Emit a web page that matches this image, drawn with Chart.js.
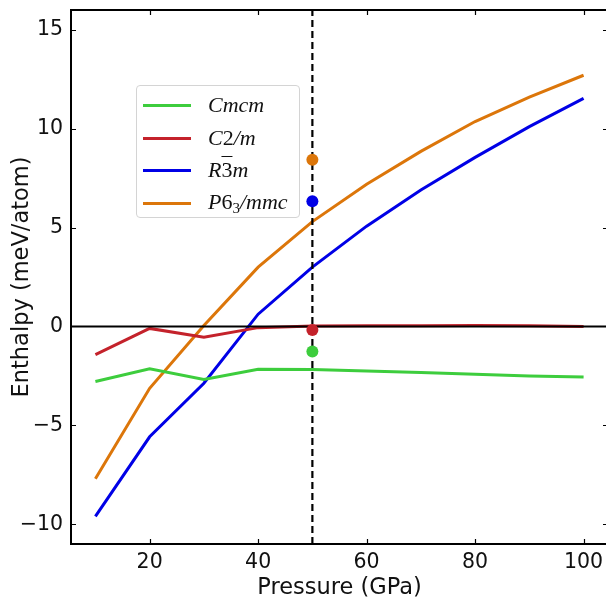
<!DOCTYPE html>
<html>
<head>
<meta charset="utf-8">
<script src="https://cdn.jsdelivr.net/npm/chart.js@4.4.0/dist/chart.umd.min.js"></script>
<style>
html, body { margin:0; padding:0; background:#fff; overflow:hidden; }
#wrap { position:relative; width:614px; height:600px; }
#legend {
  position:absolute; left:136px; top:85px; width:164px; height:133px;
  border:1px solid #d4d4d4; border-radius:4px; background:#fff; box-sizing:border-box;
  font-family:'Liberation Serif','DejaVu Serif',serif; font-size:22px; font-style:italic; color:#111;
}
.row { position:absolute; left:0; height:30px; display:flex; align-items:center; white-space:nowrap; }
.swatch { width:48px; height:3px; margin-left:6px; margin-right:17px; }
.up { font-style:normal; }
.bar { font-style:normal; text-decoration:overline; text-decoration-thickness:1px; }
sub { font-size:15px; font-style:normal; vertical-align:-4px; }
</style>
</head>
<body>
<div id="wrap">
  <canvas id="chart" width="614" height="600"></canvas>
  <div id="legend"></div>
</div>
<script>
// ── Data ───────────────────────────────────────────────────────
const PRESSURE = [10, 20, 30, 40, 50, 60, 70, 80, 90, 100];
const CMCM = [-2.78, -2.14, -2.68, -2.17, -2.18, -2.25, -2.33, -2.42, -2.50, -2.55];
const C2M  = [-1.42, -0.10, -0.55, -0.06, 0.02, 0.03, 0.04, 0.05, 0.03, 0.00];
const R3M  = [-9.60, -5.58, -2.87, 0.62, 3.00, 5.07, 6.90, 8.55, 10.10, 11.53];
const P63  = [-7.70, -3.13, 0.05, 3.00, 5.30, 7.19, 8.85, 10.36, 11.60, 12.70];

// single points at the marked pressure
const MARK_P = 50;
const MARK_VALUES = [-1.27, -0.18, 6.33, 8.43];   // Cmcm, C2/m, R-3m, P6_3/mmc

const X_TICKS = [20, 40, 60, 80, 100];
const Y_TICKS = [-10, -5, 0, 5, 10, 15];
const X_MIN = 5.5, X_MAX = 104.5;
const Y_MIN = -11, Y_MAX = 16;

// ── Styles ─────────────────────────────────────────────────────
const COL = { cmcm:'#3dcd3d', c2m:'#c4222b', r3m:'#0000e6', p63:'#dc760a' };
const SERIES = [
  { key:'cmcm', label:'Cmcm',     html:'Cmcm',                                   data:CMCM },
  { key:'c2m',  label:'C2/m',     html:'C<span class="up">2</span>/m',            data:C2M  },
  { key:'r3m',  label:'R-3m',     html:'R<span class="bar">3</span>m',            data:R3M  },
  { key:'p63',  label:'P6_3/mmc', html:'P<span class="up">6</span><sub>3</sub>/mmc', data:P63 },
];

const pts = arr => PRESSURE.map((p, i) => ({ x:p, y:arr[i] }));

const datasets = [];
// scatter marks (on top)
SERIES.forEach((s, i) => {
  datasets.push({
    type:'scatter', label:s.label + ' pt', data:[{ x:MARK_P, y:MARK_VALUES[i] }],
    backgroundColor:COL[s.key], borderWidth:0, pointRadius:6, order:0
  });
});
// vertical dashed reference
datasets.push({
  label:'ref-x', data:[{ x:MARK_P, y:Y_MIN }, { x:MARK_P, y:Y_MAX }],
  borderColor:'#000', borderWidth:2.2, borderDash:[7, 4], pointRadius:0, order:1
});
// zero line
datasets.push({
  label:'ref-y', data:[{ x:X_MIN, y:0 }, { x:X_MAX, y:0 }],
  borderColor:'#000', borderWidth:2, pointRadius:0, order:2
});
// enthalpy curves
SERIES.forEach(s => {
  datasets.push({
    label:s.label, data:pts(s.data), borderColor:COL[s.key],
    borderWidth:3, pointRadius:0, tension:0, order:3
  });
});

// ── Frame: box + inward ticks on all four sides ────────────────
const framePlugin = {
  id:'frame',
  afterDatasetsDraw(chart) {
    const { ctx, chartArea:a, scales:{ x, y } } = chart;
    ctx.save();
    ctx.strokeStyle = '#000';
    ctx.lineWidth = 1.2;
    ctx.beginPath();
    X_TICKS.forEach(v => {
      const px = Math.round(x.getPixelForValue(v)) + 0.5;
      ctx.moveTo(px, a.bottom); ctx.lineTo(px, a.bottom - 5);
      ctx.moveTo(px, a.top);    ctx.lineTo(px, a.top + 5);
    });
    Y_TICKS.forEach(v => {
      const py = Math.round(y.getPixelForValue(v)) + 0.5;
      ctx.moveTo(a.left, py);  ctx.lineTo(a.left + 5, py);
      ctx.moveTo(a.right, py); ctx.lineTo(a.right - 5, py);
    });
    ctx.stroke();
    ctx.lineWidth = 2;
    ctx.strokeRect(a.left, a.top, a.right - a.left, a.bottom - a.top);
    ctx.restore();
  }
};

const TICK_FONT  = { family:"'DejaVu Sans', sans-serif", size:20.5 };
const TITLE_FONT = { family:"'DejaVu Sans', sans-serif", size:22.5 };

new Chart(document.getElementById('chart'), {
  type:'line',
  data:{ datasets },
  options:{
    responsive:false, animation:false, devicePixelRatio:1,
    layout:{ padding:{ top:10, right:0, left:0, bottom:0 } },
    plugins:{ legend:{ display:false }, tooltip:{ enabled:false } },
    scales:{
      x:{
        type:'linear', min:X_MIN, max:X_MAX,
        afterBuildTicks: s => { s.ticks = X_TICKS.map(v => ({ value:v })); },
        afterFit: s => { s.height = 56; s.paddingLeft = 0; s.paddingRight = 0; },
        grid:{ display:false, drawTicks:false }, border:{ display:false },
        ticks:{ font:TICK_FONT, color:'#111', padding:6, maxRotation:0 },
        title:{ display:true, text:'Pressure (GPa)', font:TITLE_FONT, color:'#111', padding:{ top:0, bottom:-2 } }
      },
      y:{
        type:'linear', min:Y_MIN, max:Y_MAX,
        afterBuildTicks: s => { s.ticks = Y_TICKS.map(v => ({ value:v })); },
        afterFit: s => { s.width = 71; s.paddingTop = 0; s.paddingBottom = 0; },
        grid:{ display:false, drawTicks:false }, border:{ display:false },
        ticks:{ font:TICK_FONT, color:'#111', padding:8, callback: v => String(v).replace('-', '\u2212') },
        title:{ display:true, text:'Enthalpy (meV/atom)', font:TITLE_FONT, color:'#111', padding:{ top:8.5, bottom:0 } }
      }
    }
  },
  plugins:[framePlugin]
});

// ── Legend (HTML overlay) ──────────────────────────────────────
const ROW_Y = [19, 52, 84, 117];
document.getElementById('legend').innerHTML = SERIES.map((s, i) =>
  `<div class="row" style="top:${ROW_Y[i] - 15}px">
     <span class="swatch" style="background:${COL[s.key]}"></span><span>${s.html}</span>
   </div>`).join('');
</script>
</body>
</html>
